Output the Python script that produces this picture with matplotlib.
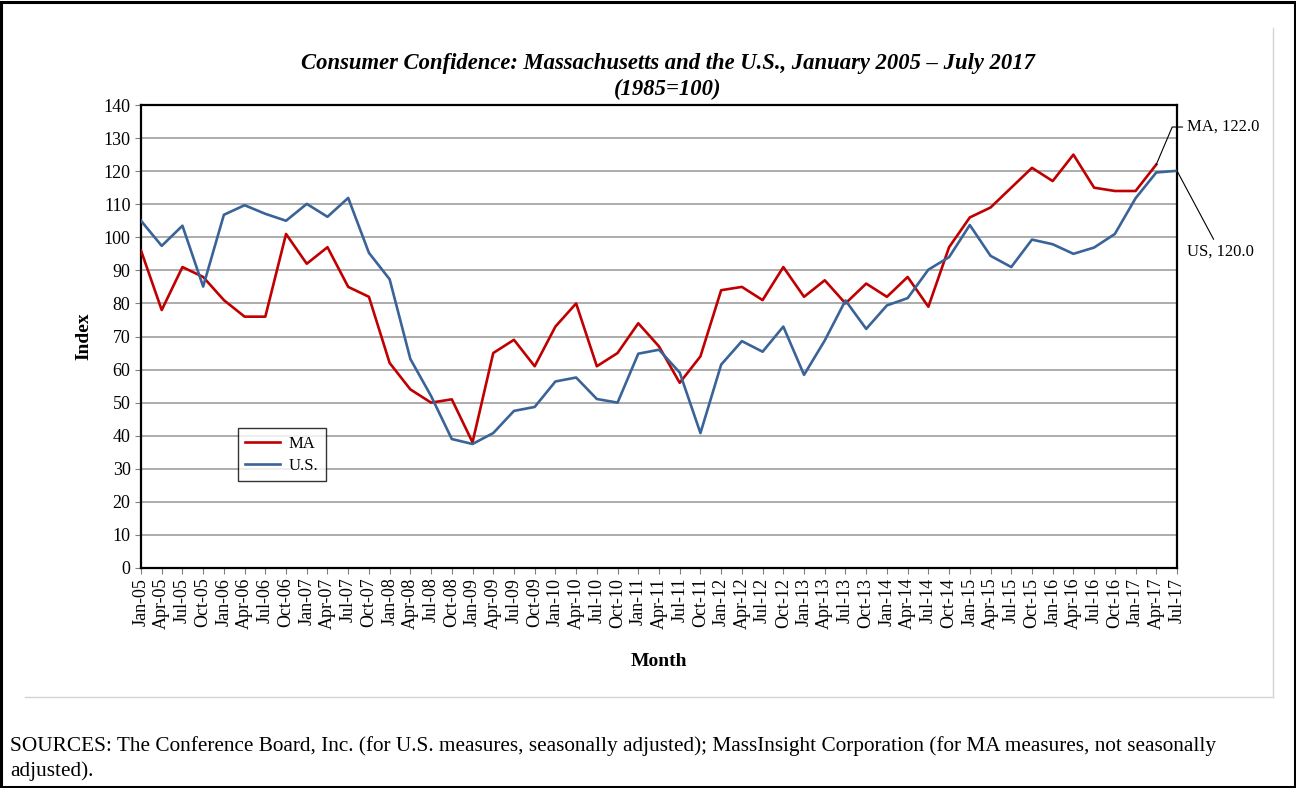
import matplotlib
matplotlib.use('Agg')
import matplotlib.pyplot as plt
from matplotlib.patches import Rectangle
from matplotlib.lines import Line2D

plt.rcParams['font.family'] = ['Liberation Serif', 'DejaVu Serif']

# quarterly labels, Jan-05 .. Jul-17
months = ['Jan', 'Apr', 'Jul', 'Oct']
labels = []
for yr in range(5, 18):
    for m in months:
        labels.append('%s-%02d' % (m, yr))
labels = labels[:51]

# Massachusetts index (ends Apr-17)
ma = [96, 78, 91, 88, 81, 76, 76, 101, 92, 97, 85, 82,
      62, 54, 50, 51, 38, 65, 69, 61, 73, 80, 61, 65,
      74, 67, 56, 64, 84, 85, 81, 91, 82, 87, 80, 86,
      82, 88, 79, 97, 106, 109, 115, 121, 117, 125, 115, 114,
      114, 122]

# U.S. index (ends Jul-17)
us = [105.0, 97.4, 103.5, 85.1, 106.8, 109.7, 107.1, 105.0, 110.1, 106.2, 111.9, 95.3,
      87.3, 63.2, 52.0, 39.0, 37.5, 40.8, 47.5, 48.7, 56.4, 57.6, 51.1, 50.0,
      64.8, 66.0, 59.1, 40.8, 61.5, 68.6, 65.4, 73.0, 58.4, 68.8, 80.9, 72.3,
      79.4, 81.6, 90.2, 94.0, 103.7, 94.4, 91.0, 99.3, 97.9, 95.0, 96.9, 101.0,
      111.8, 119.6, 120.1]

red = '#C00000'
blue = '#3A6398'

fig = plt.figure(figsize=(12.96, 7.88), dpi=100)

# outer black frame
fig.patches.append(Rectangle((0.001, 0.001), 0.998, 0.997, transform=fig.transFigure,
                             fill=False, edgecolor='black', lw=2.2))
# light gray chart-area frame (bottom and right)
fig.add_artist(Line2D([25/1296, 1273/1296], [1-697/788, 1-697/788],
                      transform=fig.transFigure, color='#D4D4D4', lw=1))
fig.add_artist(Line2D([1273/1296, 1273/1296], [1-697/788, 1-28/788],
                      transform=fig.transFigure, color='#D4D4D4', lw=1))

ax = fig.add_axes([141/1296, 1-568/788, 1036/1296, 463/788])

x_ma = list(range(len(ma)))
x_us = list(range(len(us)))
ax.plot(x_ma, ma, color=red, lw=1.9, label='MA', zorder=3)
ax.plot(x_us, us, color=blue, lw=1.9, label='U.S.', zorder=3)

ax.set_xlim(0, 50)
ax.set_ylim(0, 140)
ax.set_yticks(range(0, 141, 10))
ax.set_xticks(range(51))
ax.set_xticklabels(labels, rotation=90, fontsize=13)
ax.tick_params(axis='y', labelsize=13, length=4, width=0.8, color='#808080')
ax.tick_params(axis='x', length=4, width=0.8, color='#808080', pad=3)
ax.yaxis.grid(True, color='#A6A6A6', lw=1.3)
ax.set_axisbelow(True)
for s in ax.spines.values():
    s.set_color('black')
    s.set_linewidth(1.6)

ax.set_ylabel('Index', fontsize=14, fontweight='bold', labelpad=8)
ax.set_xlabel('Month', fontsize=14, fontweight='bold', labelpad=17)

fig.text(668/1296, 1-63/788, 'Consumer Confidence: Massachusetts and the U.S., January 2005 \u2013 July 2017',
         ha='center', va='center', fontsize=16.3, fontweight='bold', style='italic')
fig.text(668/1296, 1-89/788, '(1985=100)', ha='center', va='center',
         fontsize=16.3, fontweight='bold', style='italic')

leg = ax.legend(loc='upper left', bbox_to_anchor=(0.0936, 0.302), fontsize=12,
                frameon=True, fancybox=False, edgecolor='black', handlelength=2.1,
                handletextpad=0.5, borderpad=0.45, labelspacing=0.35, borderaxespad=0)
leg.get_frame().set_linewidth(1.0)

# end-point labels
ax.annotate('MA, %.1f' % ma[-1], xy=(x_ma[-1], ma[-1]), xytext=(22, 27),
            textcoords='offset points', ha='left', va='center', fontsize=12,
            arrowprops=dict(arrowstyle='-', color='black', lw=0.8, shrinkA=1, shrinkB=0,
                            connectionstyle='angle,angleA=0,angleB=67,rad=0'),
            annotation_clip=False)
ax.annotate('US, %.1f' % round(us[-1]), xy=(x_us[-1], us[-1]), xytext=(31, -58),
            textcoords='offset points', ha='center', va='center', fontsize=12,
            arrowprops=dict(arrowstyle='-', color='black', lw=0.8, shrinkA=1, shrinkB=0),
            annotation_clip=False)

fig.text(10/1296, 1-746/788,
         'SOURCES: The Conference Board, Inc. (for U.S. measures, seasonally adjusted); '
         'MassInsight Corporation (for MA measures, not seasonally',
         ha='left', va='center', fontsize=15.3)
fig.text(10/1296, 1-771/788, 'adjusted).', ha='left', va='center', fontsize=15.3)

fig.savefig('out.png', dpi=100)
